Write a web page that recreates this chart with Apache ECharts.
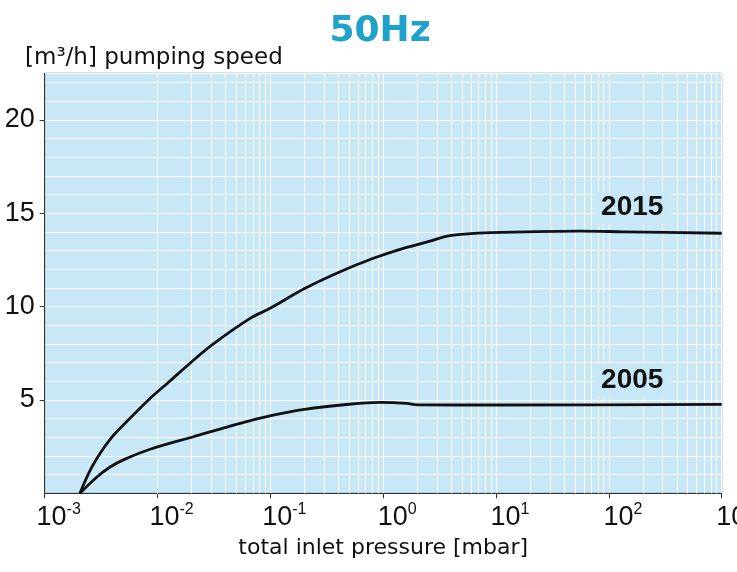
<!DOCTYPE html>
<html>
<head>
<meta charset="utf-8">
<script src="https://cdn.jsdelivr.net/npm/echarts@6/dist/echarts.min.js"></script>
<style>html,body{margin:0;padding:0;background:#fff}#c{width:737px;height:572px}</style>
</head>
<body>
<div id="c"></div>
<script>
// ---- data ----
const pressure2015 = [0.00205, 0.00252, 0.0031, 0.0038, 0.00466, 0.0083, 0.0129, 0.0201, 0.0302, 0.0661, 0.0994, 0.203, 0.415, 0.818, 1.41, 2.5, 3.9, 8.9, 55, 135, 1000];
const speed2015    = [0, 1.21, 2.14, 2.89, 3.48, 5.0, 6.02, 7.05, 7.94, 9.37, 9.91, 10.98, 11.87, 12.59, 13.07, 13.48, 13.80, 13.96, 14.05, 14.01, 13.93];
const pressure2005 = [0.00205, 0.00287, 0.0038, 0.00515, 0.0086, 0.0208, 0.054, 0.106, 0.2, 0.5, 0.94, 1.62, 2.0, 11, 1000];
const speed2005    = [0, 0.85, 1.41, 1.83, 2.36, 3.03, 3.75, 4.19, 4.5, 4.77, 4.87, 4.82, 4.74, 4.73, 4.76];
const seriesNames  = ['2015', '2005'];
const yTickLabels  = [5, 10, 15, 20];
const xDecades     = [-3, -2, -1, 0, 1, 2, 3];
const minorMultipliers = [2, 3, 4, 5, 6, 7, 8, 9];

const titleText = '50Hz';
const yName = '[m³/h] pumping speed';
const xName = 'total inlet pressure [mbar]';

// ---- build ----
const pairs = (xs, ys) => xs.map((x, i) => [x, ys[i]]);
const minorGrid = [];
xDecades.slice(0, -1).forEach(d => minorMultipliers.forEach(m => minorGrid.push({ xAxis: m * Math.pow(10, d) })));

const digitFont = '"Liberation Sans", sans-serif';
const bg = '#c8e8f8';

const chart = echarts.init(document.getElementById('c'), null, { renderer: 'canvas' });
chart.setOption({
  animation: false,
  backgroundColor: '#fff',
  title: [
    { text: titleText, left: 375, top: 9, textAlign: 'center',
      textStyle: { fontFamily: 'DejaVu Sans', fontWeight: 'bold', fontSize: 36, color: '#1fa1c9' } },
    { text: yName, left: 20, top: 42,
      textStyle: { fontFamily: 'DejaVu Sans', fontWeight: 'normal', fontSize: 23, color: '#111' } }
  ],
  grid: { left: 44.7, right: 15.3, top: 73.3, bottom: 78.7, show: true, backgroundColor: bg, borderColor: '#5a5a5a', borderWidth: 1,
          containLabel: false, outerBoundsMode: 'none' },
  xAxis: {
    type: 'log', logBase: 10, min: 0.001, max: 1000,
    name: xName, nameLocation: 'middle', nameGap: 44,
    nameTextStyle: { fontFamily: 'DejaVu Sans', fontSize: 22, color: '#111' },
    axisLine: { show: true, lineStyle: { color: '#333', width: 1 } },
    axisTick: { show: true, length: 5, inside: false, lineStyle: { color: '#333' } },
    splitLine: { show: true, lineStyle: { color: '#fff', width: 1 } },
    minorTick: { show: false },
    axisLabel: {
      showMinLabel: true, showMaxLabel: true, margin: 8, hideOverlap: false,
      formatter: v => '{pad|}{b|10}{s|' + Math.round(Math.log10(v)) + '}',
      rich: {
        pad: { width: 28 },
        b: { fontFamily: digitFont, fontSize: 27, color: '#111', lineHeight: 30, verticalAlign: 'bottom' },
        s: { fontFamily: digitFont, fontSize: 16, color: '#111', lineHeight: 30, verticalAlign: 'top' }
      }
    }
  },
  yAxis: [
    { type: 'value', min: 0, max: 22.5, interval: 1,
      axisLine: { show: false }, axisTick: { show: false }, axisLabel: { show: false },
      splitLine: { show: true, lineStyle: { color: '#fff', width: 1 } } },
    { type: 'value', min: 0, max: 22.5, interval: 5, position: 'left',
      axisLine: { show: true, lineStyle: { color: '#333', width: 1 } },
      axisTick: { show: true, length: 5, customValues: yTickLabels, lineStyle: { color: '#333' } },
      splitLine: { show: false },
      axisLabel: { customValues: yTickLabels, margin: 10, fontFamily: digitFont, fontSize: 27, color: '#111' } }
  ],
  series: [
    { type: 'line', name: 'minorgrid', data: [[0.001, 0]], symbol: 'none', lineStyle: { width: 0 }, silent: true, z: 1,
      markLine: { silent: true, symbol: ['none', 'none'], label: { show: false },
        lineStyle: { color: '#fff', width: 1, type: 'solid' }, data: minorGrid, animation: false } },
    { type: 'line', name: seriesNames[0], data: pairs(pressure2015, speed2015), smooth: 0.3,
      symbol: 'none', lineStyle: { color: '#111', width: 2.8 }, z: 5,
      markPoint: { symbol: 'rect', symbolSize: 0, silent: true,
        label: { show: true, position: 'inside', formatter: seriesNames[0], fontFamily: '"Liberation Sans", sans-serif', fontWeight: 'bold', fontSize: 28, color: '#111', backgroundColor: bg, padding: [2, 6] },
        data: [{ coord: [161, 15.3] }] } },
    { type: 'line', name: seriesNames[1], data: pairs(pressure2005, speed2005), smooth: 0.3,
      symbol: 'none', lineStyle: { color: '#111', width: 2.8 }, z: 5,
      markPoint: { symbol: 'rect', symbolSize: 0, silent: true,
        label: { show: true, position: 'inside', formatter: seriesNames[1], fontFamily: '"Liberation Sans", sans-serif', fontWeight: 'bold', fontSize: 28, color: '#111', backgroundColor: bg, padding: [2, 6] },
        data: [{ coord: [161, 6.07] }] } }
  ]
});
</script>
</body>
</html>
